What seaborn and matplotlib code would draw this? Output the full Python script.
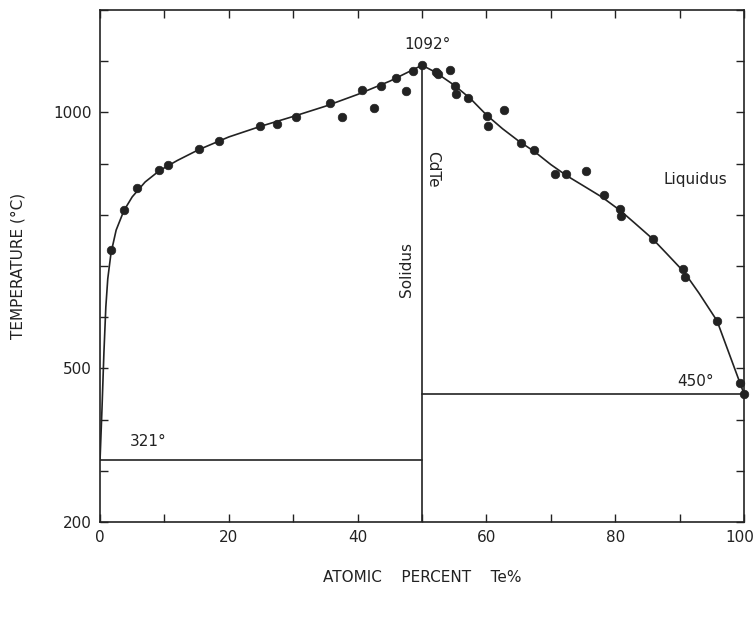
import matplotlib
matplotlib.use("Agg")
import matplotlib.pyplot as plt
import matplotlib.transforms as mtransforms
import seaborn as sns

# measured points (atomic % Te, temperature °C)
pts_x = [1.7, 3.7, 5.8, 9.2, 10.6, 15.3, 18.4, 24.8, 27.5, 30.4, 35.7, 37.6, 40.7,
         42.5, 43.6, 46.0, 47.5, 48.6, 50.0,
         52.2, 52.4, 54.3, 55.1, 55.3, 57.2, 60.1, 60.3, 62.7, 65.3, 67.4, 70.6,
         72.4, 75.5, 78.3, 80.8, 80.9, 85.8, 90.5, 90.9, 95.8, 99.3, 100.0]
pts_t = [732, 809, 852, 887, 897, 928, 944, 973, 977, 991, 1019, 991, 1044,
         1009, 1052, 1068, 1041, 1080, 1092,
         1078, 1074, 1082, 1052, 1035, 1029, 992, 973, 1005, 940, 926, 880,
         880, 885, 838, 812, 797, 753, 695, 678, 593, 471, 450]

# liquidus curve, Cd-rich side
liq_l_x = [0, 0.3, 0.6, 0.9, 1.2, 1.7, 2.5, 3.7, 5.0, 7.0, 9.2, 12.0, 15.3, 20, 25, 30,
           35, 40, 45, 50]
liq_l_t = [321, 420, 530, 620, 675, 725, 770, 808, 835, 864, 886, 906, 927, 952, 973, 992,
           1012, 1035, 1061, 1092]
# liquidus curve, Te-rich side
liq_r_x = [50, 52, 55, 57.5, 60, 62.5, 65, 67.5, 70, 72.5, 75, 78, 80.8, 83, 85.8, 88,
           90.7, 93, 95.8, 100]
liq_r_t = [1092, 1079, 1053, 1027, 995, 968, 944, 923, 898, 876, 857, 834, 808, 784, 753,
           724, 688, 647, 593, 450]

# invariant lines
eut_cd_x = [0, 50]
eut_cd_t = [321, 321]
eut_te_x = [50, 100]
eut_te_t = [450, 450]
cdte_x = [50, 50]
cdte_t = [1092, 200]

x_tick_labels = [0, 20, 40, 60, 80, 100]
y_tick_labels = [200, 500, 1000]

sns.set_style("ticks")
plt.rcParams['font.family'] = ['DejaVu Sans']

ink = "#222222"
fig = plt.figure(figsize=(7.55, 6.22), dpi=100)
ax = fig.add_axes([0.1325, 0.1608, 0.853, 0.8232])

lw = 1.2
for xs, ts in [(liq_l_x, liq_l_t), (liq_r_x, liq_r_t), (eut_cd_x, eut_cd_t),
               (eut_te_x, eut_te_t), (cdte_x, cdte_t)]:
    sns.lineplot(x=xs, y=ts, sort=False, estimator=None, color=ink, lw=lw, ax=ax)

sns.scatterplot(x=pts_x, y=pts_t, color=ink, s=38, edgecolor=ink, linewidth=0.5,
                ax=ax, zorder=5, clip_on=False)

ax.set_xlim(0, 100)
ax.set_ylim(200, 1200)
ax.set_xticks(range(0, 101, 10))
ax.set_xticklabels([str(v) if v in x_tick_labels else "" for v in range(0, 101, 10)])
ax.set_yticks(range(200, 1201, 100))
ax.set_yticklabels([str(v) if v in y_tick_labels else "" for v in range(200, 1201, 100)])
ax.tick_params(direction="in", length=6, width=1, top=True, right=True,
               labelsize=11, colors=ink, pad=6)
for s in ax.spines.values():
    s.set_color(ink)
    s.set_linewidth(1.2)

# nudge the last x label ("100") a little left so it stays inside the figure
last = ax.get_xticklabels()[-1]
last.set_transform(last.get_transform() +
                   mtransforms.ScaledTranslation(-4 / 100, 0, fig.dpi_scale_trans))

ax.set_xlabel("ATOMIC    PERCENT    Te%", fontsize=11, color=ink, labelpad=18)
ax.set_ylabel("TEMPERATURE (°C)", fontsize=11, color=ink, labelpad=20)

tk = dict(color=ink, fontsize=11)
ax.text(50.8, 1132, "1092°", ha="center", va="center", **tk)
ax.text(7.5, 357, "321°", ha="center", va="center", **tk)
ax.text(92.5, 474, "450°", ha="center", va="center", **tk)
ax.text(92.5, 868, "Liquidus", ha="center", va="center", **tk)
ax.text(51.7, 888, "CdTe", ha="center", va="center", rotation=-90, **tk)
ax.text(47.6, 694, "Solidus", ha="center", va="center", rotation=90, **tk)

fig.savefig("out.png", dpi=100)
